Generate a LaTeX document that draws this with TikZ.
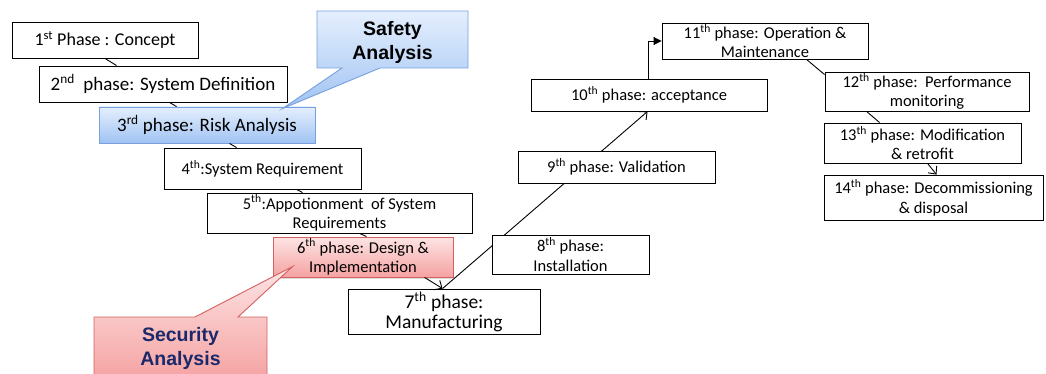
\documentclass[tikz,border=0pt]{standalone}
\usepackage{fontspec}
\setmainfont{Carlito}
\newfontfamily\calloutfont{Liberation Sans}
\usetikzlibrary{arrows.meta,backgrounds,shadows}
\definecolor{bluetop}{RGB}{229,239,253}
\definecolor{bluebot}{RGB}{160,195,243}
\definecolor{blueline}{RGB}{120,160,222}
\definecolor{redtop}{RGB}{253,228,228}
\definecolor{redbot}{RGB}{245,162,162}
\definecolor{redline}{RGB}{212,96,96}
\definecolor{navytext}{RGB}{27,40,105}
\tikzset{
  phase/.style={draw=black, fill=white, line width=0.9pt, inner sep=0pt, align=center,
    font=\fontsize{16.5}{19.5}\selectfont},
  bluebox/.style={draw=blueline, top color=bluetop, bottom color=bluebot,
    drop shadow={opacity=0.25, shadow xshift=1.2pt, shadow yshift=-1.5pt}},
  redbox/.style={draw=redline, top color=redtop, bottom color=redbot,
    drop shadow={opacity=0.25, shadow xshift=1.2pt, shadow yshift=-1.5pt}},
  bluecall/.style={draw=blueline, line width=0.9pt, top color=bluetop, bottom color=bluebot},
  redcall/.style={draw=redline, line width=0.9pt, top color=redtop, bottom color=redbot},
  callouttext/.style={align=center, inner sep=0pt,
    font=\calloutfont\bfseries\fontsize{19.5}{24}\selectfont},
  conn/.style={draw=black, line width=0.9pt},
  openarrow/.style={conn, -{Straight Barb[length=6pt,width=11pt]}},
  filledarrow/.style={conn, -{Triangle[length=8pt,width=8pt]}}
}
\begin{document}
\begin{tikzpicture}[x=1pt,y=-1pt]
\useasboundingbox (0,0) rectangle (1046,374);
\clip (0,0) rectangle (1046,374);

% phase boxes
\node[phase, font=\fontsize{18}{21}\selectfont, minimum width=186pt, minimum height=36pt] (n1) at (105,40) {1\textsuperscript{st} Phase : Concept};
\node[phase, font=\fontsize{19}{22}\selectfont, minimum width=248pt, minimum height=36pt] (n2) at (163,84) {2\textsuperscript{nd}\ \ phase: System Definition};
\node[phase, bluebox, font=\fontsize{19}{22}\selectfont, minimum width=216pt, minimum height=36pt] (n3) at (207,125) {3\textsuperscript{rd} phase: Risk Analysis};
\node[phase, minimum width=197pt, minimum height=41pt] (n4) at (262.5,168.5) {4\textsuperscript{th}:System Requirement};
\node[phase, minimum width=265pt, minimum height=40pt] (n5) at (339.5,213) {5\textsuperscript{th}:Appotionment\ \ of System\\Requirements};
\node[phase, redbox, minimum width=180pt, minimum height=40pt] (n6) at (363,257) {6\textsuperscript{th} phase: Design \&\\Implementation};
\node[phase, font=\fontsize{19.5}{19.5}\selectfont, minimum width=192pt, minimum height=45pt] (n7) at (444,311.5) {7\textsuperscript{th} phase:\\Manufacturing};
\node[phase, minimum width=157pt, minimum height=39pt] (n8) at (570.5,254.5) {8\textsuperscript{th} phase:\\Installation};
\node[phase, minimum width=197pt, minimum height=32pt] (n9) at (616.5,167) {9\textsuperscript{th} phase: Validation};
\node[phase, minimum width=236pt, minimum height=32pt] (n10) at (649,95) {10\textsuperscript{th} phase: acceptance};
\node[phase, minimum width=206pt, minimum height=36pt] (n11) at (765,41) {11\textsuperscript{th} phase: Operation \&\\Maintenance};
\node[phase, minimum width=204pt, minimum height=39pt] (n12) at (927,91.5) {12\textsuperscript{th} phase:\ \ Performance\\monitoring};
\node[phase, minimum width=197pt, minimum height=40pt] (n13) at (922.5,143) {13\textsuperscript{th} phase: Modification\\\& retrofit};
\node[phase, minimum width=219pt, minimum height=45pt] (n14) at (933.5,197.5) {14\textsuperscript{th} phase: Decommissioning\\\& disposal};

% connectors
\draw[conn] (n1.south) -- ([xshift=78pt]n2.north west);
\draw[conn] ([xshift=131pt]n2.south west) -- ([xshift=78pt]n3.north west);
\draw[conn] ([xshift=131pt]n3.south west) -- ([xshift=73pt]n4.north west);
\draw[conn] ([xshift=133pt]n4.south west) -- ([xshift=96pt]n5.north west);
\draw[conn] ([xshift=153pt]n5.south west) -- ([xshift=94pt]n6.north west);
\draw[openarrow] ([xshift=152pt]n6.south west) -- ([xshift=95pt]n7.north west);
\begin{scope}[on background layer]
\draw[openarrow] ([xshift=95pt]n7.north west) -- ([xshift=117pt]n10.south west);
\end{scope}
\draw[filledarrow] ([xshift=118pt]n10.north west) |- (n11.west);
\draw[conn] ([xshift=145pt]n11.south west) -- ([yshift=-3pt]n12.north west);
\draw[conn] ([xshift=42pt]n12.south west) -- ([xshift=56pt]n13.north west);
\draw[openarrow] ([xshift=104pt]n13.south west) -- ([xshift=113pt]n14.north west);

% callouts
\shade[bluecall] (317,11) -- (468,11) -- (468,68) -- (380,68)
  -- ([xshift=184pt,yshift=-2pt]n3.north west) -- (342,68) -- (317,68) -- cycle;
\node[callouttext, text=black] (safety) at (392.5,42.5) {Safety\\Analysis};

\shade[redcall] (94,317) -- (195,317) -- ([xshift=20pt,yshift=-30pt]n6.north west)
  -- (238,317) -- (267,317) -- (267,380) -- (94,380) -- cycle;
\node[callouttext, text=navytext] (security) at (180.5,348) {Security\\Analysis};
\end{tikzpicture}
\end{document}
